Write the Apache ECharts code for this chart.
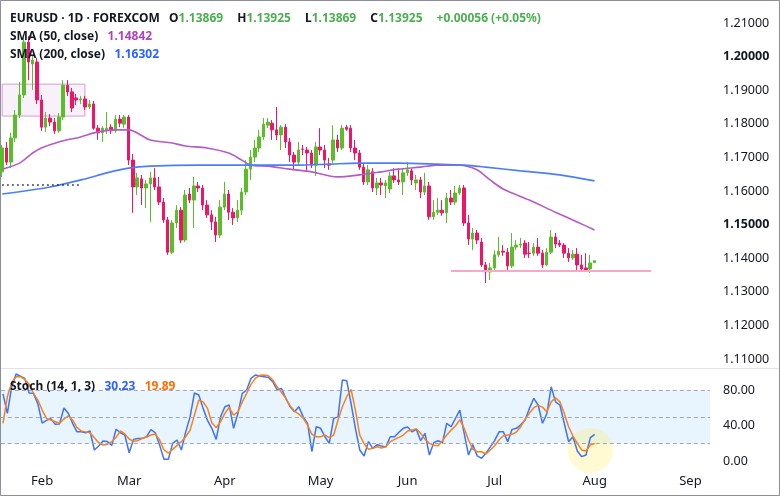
<!DOCTYPE html>
<html>
<head>
<meta charset="utf-8">
<script src="https://cdn.jsdelivr.net/npm/echarts@6/dist/echarts.min.js"></script>
<style>
  html, body { margin: 0; padding: 0; background: #fff; }
  #main { width: 780px; height: 497px; }
</style>
</head>
<body>
<div id="main"></div>
<script>
// x axis: one slot per trading day, the last ones are empty future space
const nSlots = 163;
const monthNames = ['Feb', 'Mar', 'Apr', 'May', 'Jun', 'Jul', 'Aug', 'Sep'];
const monthSlots = [9, 29, 51, 73, 93, 113, 136, 158];

// daily candles: [open, close, low, high]
const ohlc = [
  [1.1657, 1.1728, 1.1642, 1.1737], [1.1728, 1.1686, 1.1677, 1.1746], [1.1686, 1.1758, 1.1668, 1.1773],
  [1.1758, 1.1826, 1.1746, 1.1841], [1.1826, 1.1886, 1.1817, 1.1924], [1.1886, 1.2043, 1.1877, 1.2058],
  [1.2043, 1.1984, 1.1930, 1.2061], [1.1978, 1.1990, 1.1901, 1.2005], [1.1984, 1.1871, 1.1859, 1.1996],
  [1.1871, 1.1790, 1.1779, 1.1886], [1.1790, 1.1817, 1.1776, 1.1835], [1.1817, 1.1805, 1.1793, 1.1829],
  [1.1805, 1.1779, 1.1770, 1.1817], [1.1779, 1.1820, 1.1773, 1.1832], [1.1820, 1.1915, 1.1811, 1.1930],
  [1.1915, 1.1895, 1.1883, 1.1930], [1.1895, 1.1847, 1.1835, 1.1907], [1.1877, 1.1871, 1.1856, 1.1889],
  [1.1871, 1.1874, 1.1859, 1.1883], [1.1874, 1.1850, 1.1841, 1.1883], [1.1850, 1.1859, 1.1844, 1.1871],
  [1.1859, 1.1787, 1.1782, 1.1868], [1.1787, 1.1773, 1.1752, 1.1796], [1.1773, 1.1787, 1.1746, 1.1793],
  [1.1779, 1.1787, 1.1770, 1.1835], [1.1790, 1.1779, 1.1770, 1.1799], [1.1779, 1.1814, 1.1773, 1.1826],
  [1.1814, 1.1802, 1.1790, 1.1826], [1.1799, 1.1820, 1.1787, 1.1826], [1.1820, 1.1692, 1.1677, 1.1826],
  [1.1692, 1.1612, 1.1535, 1.1710], [1.1612, 1.1639, 1.1588, 1.1654], [1.1636, 1.1609, 1.1558, 1.1648],
  [1.1609, 1.1621, 1.1549, 1.1633], [1.1621, 1.1639, 1.1508, 1.1657], [1.1639, 1.1612, 1.1603, 1.1668],
  [1.1612, 1.1567, 1.1558, 1.1642], [1.1567, 1.1514, 1.1505, 1.1579], [1.1514, 1.1418, 1.1410, 1.1523],
  [1.1418, 1.1505, 1.1412, 1.1514], [1.1505, 1.1543, 1.1490, 1.1558], [1.1543, 1.1454, 1.1445, 1.1552],
  [1.1454, 1.1588, 1.1448, 1.1603], [1.1591, 1.1573, 1.1564, 1.1609], [1.1573, 1.1615, 1.1490, 1.1642],
  [1.1615, 1.1609, 1.1597, 1.1627], [1.1609, 1.1558, 1.1543, 1.1618], [1.1558, 1.1529, 1.1520, 1.1573],
  [1.1529, 1.1508, 1.1484, 1.1543], [1.1508, 1.1469, 1.1448, 1.1523], [1.1469, 1.1552, 1.1460, 1.1573],
  [1.1552, 1.1591, 1.1543, 1.1627], [1.1591, 1.1537, 1.1514, 1.1603], [1.1537, 1.1520, 1.1499, 1.1549],
  [1.1520, 1.1543, 1.1508, 1.1573], [1.1543, 1.1597, 1.1529, 1.1609], [1.1597, 1.1665, 1.1588, 1.1692],
  [1.1665, 1.1701, 1.1633, 1.1722], [1.1701, 1.1728, 1.1686, 1.1752], [1.1728, 1.1761, 1.1716, 1.1782],
  [1.1761, 1.1799, 1.1752, 1.1817], [1.1796, 1.1805, 1.1787, 1.1817], [1.1802, 1.1782, 1.1752, 1.1811],
  [1.1782, 1.1767, 1.1752, 1.1850], [1.1767, 1.1790, 1.1722, 1.1796], [1.1790, 1.1746, 1.1728, 1.1799],
  [1.1746, 1.1707, 1.1686, 1.1758], [1.1707, 1.1686, 1.1663, 1.1716], [1.1686, 1.1722, 1.1677, 1.1746],
  [1.1725, 1.1724, 1.1707, 1.1737], [1.1722, 1.1713, 1.1657, 1.1731], [1.1713, 1.1677, 1.1668, 1.1722],
  [1.1677, 1.1731, 1.1645, 1.1746], [1.1731, 1.1722, 1.1707, 1.1787], [1.1722, 1.1692, 1.1668, 1.1737],
  [1.1680, 1.1677, 1.1663, 1.1698], [1.1692, 1.1752, 1.1683, 1.1796], [1.1752, 1.1728, 1.1716, 1.1767],
  [1.1728, 1.1787, 1.1722, 1.1796], [1.1790, 1.1784, 1.1779, 1.1796], [1.1787, 1.1728, 1.1716, 1.1796],
  [1.1728, 1.1713, 1.1692, 1.1752], [1.1713, 1.1671, 1.1663, 1.1722], [1.1671, 1.1627, 1.1618, 1.1683],
  [1.1627, 1.1663, 1.1618, 1.1677], [1.1657, 1.1609, 1.1597, 1.1668], [1.1609, 1.1624, 1.1588, 1.1639],
  [1.1624, 1.1618, 1.1588, 1.1639], [1.1615, 1.1624, 1.1579, 1.1633], [1.1606, 1.1645, 1.1594, 1.1657],
  [1.1645, 1.1633, 1.1624, 1.1668], [1.1633, 1.1627, 1.1618, 1.1668], [1.1627, 1.1654, 1.1588, 1.1668],
  [1.1654, 1.1663, 1.1645, 1.1686], [1.1660, 1.1633, 1.1618, 1.1668], [1.1624, 1.1633, 1.1603, 1.1648],
  [1.1633, 1.1597, 1.1579, 1.1642], [1.1597, 1.1615, 1.1588, 1.1654], [1.1615, 1.1523, 1.1514, 1.1627],
  [1.1523, 1.1537, 1.1514, 1.1573], [1.1537, 1.1543, 1.1529, 1.1579], [1.1543, 1.1535, 1.1526, 1.1573],
  [1.1535, 1.1579, 1.1505, 1.1594], [1.1579, 1.1567, 1.1558, 1.1603], [1.1567, 1.1594, 1.1558, 1.1615],
  [1.1594, 1.1609, 1.1588, 1.1618], [1.1609, 1.1505, 1.1496, 1.1618], [1.1505, 1.1457, 1.1439, 1.1529],
  [1.1457, 1.1475, 1.1424, 1.1490], [1.1475, 1.1454, 1.1442, 1.1484], [1.1448, 1.1380, 1.1374, 1.1460],
  [1.1380, 1.1359, 1.1326, 1.1389], [1.1359, 1.1371, 1.1335, 1.1386], [1.1371, 1.1410, 1.1365, 1.1424],
  [1.1410, 1.1421, 1.1404, 1.1463], [1.1421, 1.1418, 1.1407, 1.1439], [1.1418, 1.1377, 1.1365, 1.1430],
  [1.1377, 1.1433, 1.1371, 1.1475], [1.1433, 1.1439, 1.1424, 1.1454], [1.1439, 1.1442, 1.1430, 1.1460],
  [1.1445, 1.1412, 1.1401, 1.1454], [1.1415, 1.1414, 1.1401, 1.1448], [1.1415, 1.1433, 1.1407, 1.1445],
  [1.1433, 1.1415, 1.1407, 1.1460], [1.1415, 1.1380, 1.1371, 1.1424], [1.1380, 1.1418, 1.1377, 1.1430],
  [1.1418, 1.1463, 1.1412, 1.1484], [1.1463, 1.1442, 1.1430, 1.1475], [1.1445, 1.1439, 1.1433, 1.1454],
  [1.1439, 1.1415, 1.1401, 1.1445], [1.1415, 1.1401, 1.1389, 1.1430], [1.1401, 1.1412, 1.1395, 1.1424],
  [1.1412, 1.1380, 1.1365, 1.1430], [1.1380, 1.1368, 1.1359, 1.1410], [1.1371, 1.1365, 1.1359, 1.1415],
  [1.1368, 1.1386, 1.1356, 1.1410], [1.13869, 1.13925, 1.13869, 1.13925]
];

// moving averages: [day index, value]
const sma50 = [[0, 1.1665], [4, 1.1683], [7, 1.1713], [9, 1.1728], [13, 1.1746], [18, 1.1761], [22, 1.1776],
  [26, 1.1782], [29, 1.1782], [34, 1.1752], [39, 1.1743], [42, 1.1734], [47, 1.1728], [52, 1.1713],
  [55, 1.1692], [57, 1.1677], [61, 1.1674], [66, 1.1665], [71, 1.1657], [77, 1.1642], [82, 1.1648],
  [87, 1.1657], [91, 1.1665], [96, 1.1671], [100, 1.1677], [105, 1.1677], [109, 1.1663], [112, 1.1633],
  [115, 1.1606], [121, 1.1573], [127, 1.1537], [132, 1.1508], [136, 1.14842]];
const sma200 = [[0, 1.1591], [11, 1.1612], [19, 1.1636], [24, 1.1654], [29, 1.1668], [34, 1.1674],
  [45, 1.1677], [56, 1.1677], [68, 1.1677], [75, 1.1680], [82, 1.1683], [91, 1.1683], [100, 1.1680],
  [106, 1.1677], [111, 1.1671], [119, 1.1660], [128, 1.1648], [136, 1.16302]];

// stochastic %K and %D, one value per day
const stochK = [76, 54, 84, 98.5, 96, 93.6, 77, 76.6, 65, 43,
  46, 48, 41.5, 42, 60, 54, 42.7, 33, 33, 32,
  34, 12.5, 17, 22.6, 22, 17.7, 36, 32, 29.4, 9.4,
  24.5, 25.6, 25.6, 27.5, 35.5, 32, 18, 2, 2, 20,
  23.8, 12.5, 33, 50, 77, 74.7, 59.6, 46, 37, 24.5,
  50, 61.5, 63.4, 37, 54, 76.6, 80.4, 93.6, 97.4, 96.2,
  95.5, 94.7, 89.8, 80.4, 82.3, 71, 61.5, 55.8, 61.5, 50,
  42.7, 10.5, 38.8, 37, 27.5, 20, 48.3, 50, 91.7, 91,
  65, 37, 12.5, 5.7, 22, 14.3, 18.5, 17, 16, 27.5,
  27.5, 32.5, 37, 38.5, 33, 35.8, 23, 31.3, 6.8, 20.8,
  23, 20.8, 42.7, 38.8, 48.3, 57.7, 31.3, 6.8, 18.5, 5.7,
  3, 8.7, 16, 23, 33, 33, 21.9, 35.8, 37, 41,
  46.4, 59.6, 71, 63.4, 42.7, 53.5, 84, 67, 63.4, 42.7,
  21.9, 27.5, 11.3, 4.9, 6.8, 26.4, 30.23];
const stochD = [42.7, 72.8, 89, 95.5, 95.5, 92.5, 86.8, 76.6, 69, 57.7,
  48.3, 46.4, 44.5, 42.7, 47.5, 51, 46.4, 38, 34, 33,
  32, 26.4, 20.8, 18, 19, 21.9, 26.8, 34, 30.6, 24.9,
  22.3, 23, 25.7, 27.2, 29.4, 30.6, 23.8, 12.5, 9, 13.2,
  17.7, 21.9, 27.5, 35, 52, 69, 67, 59.6, 43.4, 38,
  44.5, 54, 60.8, 52, 55.8, 67, 76.6, 86.8, 93.6, 97,
  97.4, 96.6, 91.7, 84, 77.7, 71, 62.3, 56.6, 53.2, 48.3,
  40.8, 30.2, 27.5, 27.5, 29.4, 26.4, 29.4, 46.4, 61.5, 72.8,
  81, 57.7, 29.4, 19.2, 13.2, 14.3, 16.2, 14.7, 16.2, 21.9,
  24.5, 26.8, 29.4, 34, 35, 36.6, 31.3, 24.5, 20, 17.7,
  17.3, 23, 29.4, 35, 39.6, 46.8, 37, 23.8, 13.2, 10.5,
  10.5, 7.9, 12.5, 17.3, 23.8, 28.6, 29.4, 30.2, 32.8, 38.8,
  47.2, 54, 60.4, 63, 61, 55.8, 67, 71.7, 67, 54,
  38.8, 28.3, 20, 12.5, 11.3, 18, 19.89];

const lastPrice = 1.13925;
const boldTicks = ['1.20000', '1.15000'];

const upColor = '#5cbd2b';
const downColor = '#ee1468';
const font = 'Noto Sans';

let slots = [];
for (let i = 0; i < nSlots; i++) slots.push(String(i));
let slotLabel = {};
monthSlots.forEach((s, k) => { slotLabel[s] = monthNames[k]; });

let chart = echarts.init(document.getElementById('main'), null, { renderer: 'canvas' });

let txt = { fontSize: 12, color: '#131722', fontFamily: font };

let option = {
    backgroundColor: '#ffffff',
    animation: false,
    textStyle: { fontFamily: font },
    title: [
        {
            left: 5, top: 5,
            text: '{n|EURUSD · 1D · FOREXCOM}  {n|O}{v|1.13869}   {n|H}{v|1.13925}   {n|L}{v|1.13869}   {n|C}{v|1.13925}   {v|+0.00056 (+0.05%)}',
            textStyle: { rich: { n: txt, v: Object.assign({}, txt, { color: '#4caf50' }) } }
        },
        {
            left: 5, top: 23,
            text: '{n|SMA (50, close)}  {v|1.14842}',
            textStyle: { rich: { n: txt, v: Object.assign({}, txt, { color: '#ab47bc' }) } }
        },
        {
            left: 5, top: 41,
            text: '{n|SMA (200, close)}  {v|1.16302}',
            textStyle: { rich: { n: txt, v: Object.assign({}, txt, { color: '#2962ff' }) } }
        },
        {
            left: 5, top: 373,
            text: '{n|Stoch (14, 1, 3)}  {k|30.23}  {d|19.89}',
            textStyle: { rich: {
                n: txt,
                k: Object.assign({}, txt, { color: '#2962ff' }),
                d: Object.assign({}, txt, { color: '#ff6d00' })
            } }
        }
    ],
    grid: [
        { left: 0, right: 70, top: 23, height: 336 },
        { left: 0, right: 70, top: 372.7, height: 88.3 }
    ],
    xAxis: [
        {
            type: 'category', gridIndex: 0, data: slots, boundaryGap: true,
            axisLine: { show: false }, axisTick: { show: false }, axisLabel: { show: false },
            splitLine: { show: false }
        },
        {
            type: 'category', gridIndex: 1, data: slots, boundaryGap: true,
            axisLine: { show: false }, axisTick: { show: false }, splitLine: { show: false },
            axisLabel: {
                interval: 0, margin: 14, fontSize: 13, color: '#131722', fontFamily: font,
                formatter: (v, i) => slotLabel[i] || ''
            }
        }
    ],
    yAxis: [
        {
            type: 'value', gridIndex: 0, position: 'right', scale: true,
            min: 1.11, max: 1.21, interval: 0.01,
            axisLine: { show: false }, axisTick: { show: false }, splitLine: { show: false },
            axisLabel: {
                margin: 13, fontSize: 12.5, color: '#131722', fontFamily: font,
                formatter: v => {
                    let s = v.toFixed(5);
                    return boldTicks.includes(s) ? '{b|' + s + '}' : s;
                },
                rich: { b: { fontSize: 12.5, fontWeight: 'bold', color: '#131722', fontFamily: font } }
            }
        },
        {
            type: 'value', gridIndex: 1, position: 'right',
            min: 0, max: 100, interval: 40,
            axisLine: { show: false }, axisTick: { show: false }, splitLine: { show: false },
            axisLabel: {
                margin: 13, fontSize: 12.5, color: '#131722', fontFamily: font,
                showMaxLabel: false,
                formatter: v => v.toFixed(2)
            }
        }
    ],
    series: [
        {
            name: 'EURUSD',
            type: 'candlestick',
            xAxisIndex: 0, yAxisIndex: 0,
            data: ohlc,
            barWidth: 3,
            itemStyle: {
                color: upColor, color0: downColor,
                borderColor: upColor, borderColor0: downColor, borderWidth: 1
            },
            markArea: {
                silent: true,
                itemStyle: { color: 'rgba(225, 190, 231, 0.22)', borderColor: '#d59ad9', borderWidth: 1 },
                data: [[{ xAxis: 0, yAxis: 1.1918 }, { xAxis: 19, yAxis: 1.1823 }]]
            },
            markLine: {
                silent: true,
                symbol: ['none', 'none'],
                data: [
                    [
                        { xAxis: 0, yAxis: 1.1618, lineStyle: { color: '#131722', width: 1.5, type: [1.5, 3.5] } },
                        { xAxis: 18, yAxis: 1.1618 }
                    ],
                    [
                        { xAxis: 103, yAxis: 1.1362, lineStyle: { color: '#f7a8c8', width: 2, type: 'solid' } },
                        { xAxis: 149, yAxis: 1.1362 }
                    ],
                    {
                        yAxis: lastPrice,
                        lineStyle: { opacity: 0 },
                        label: {
                            show: true, position: 'end', distance: 3,
                            formatter: lastPrice.toFixed(5),
                            backgroundColor: '#5cbd2b', color: '#131722',
                            fontSize: 12.5, fontFamily: font, padding: [2, 6, 2, 6]
                        }
                    }
                ],
                label: { show: false }
            }
        },
        {
            name: 'SMA 50',
            type: 'line', xAxisIndex: 0, yAxisIndex: 0,
            data: sma50, smooth: 0.3, showSymbol: false,
            lineStyle: { color: '#b35bc8', width: 1.6 }, z: 3
        },
        {
            name: 'SMA 200',
            type: 'line', xAxisIndex: 0, yAxisIndex: 0,
            data: sma200, smooth: 0.3, showSymbol: false,
            lineStyle: { color: '#4c7ff6', width: 1.6 }, z: 3
        },
        {
            name: 'bands',
            type: 'line', xAxisIndex: 1, yAxisIndex: 1,
            data: [], z: 0,
            markArea: {
                silent: true,
                itemStyle: { color: 'rgba(33, 150, 243, 0.1)' },
                data: [[{ yAxis: 20 }, { yAxis: 80 }]]
            },
            markLine: {
                silent: true,
                symbol: ['none', 'none'],
                label: { show: false },
                lineStyle: { color: '#a3a6af', width: 1, type: [4, 3] },
                data: [{ yAxis: 20 }, { yAxis: 50 }, { yAxis: 80 }]
            }
        },
        {
            name: 'highlight',
            type: 'scatter', xAxisIndex: 1, yAxisIndex: 1,
            data: [[135, 12]], symbolSize: 45, z: 1, silent: true,
            itemStyle: { color: 'rgba(255, 238, 88, 0.35)' }
        },
        {
            name: '%K',
            type: 'line', xAxisIndex: 1, yAxisIndex: 1,
            data: stochK, showSymbol: false,
            lineStyle: { color: '#3f72f5', width: 1.5 }, z: 3
        },
        {
            name: '%D',
            type: 'line', xAxisIndex: 1, yAxisIndex: 1,
            data: stochD, showSymbol: false,
            lineStyle: { color: '#f7821b', width: 1.5 }, z: 4
        }
    ],
    graphic: [
        {
            type: 'line', silent: true,
            shape: { x1: 0, y1: 368.5, x2: 780, y2: 368.5 },
            style: { stroke: '#e0e3eb', lineWidth: 1 }
        },
        {
            type: 'rect', silent: true,
            shape: { x: 0.5, y: 0.5, width: 779, height: 495 },
            style: { fill: null, stroke: '#8c8f96', lineWidth: 1 }
        }
    ]
};

chart.setOption(option);
</script>
</body>
</html>
